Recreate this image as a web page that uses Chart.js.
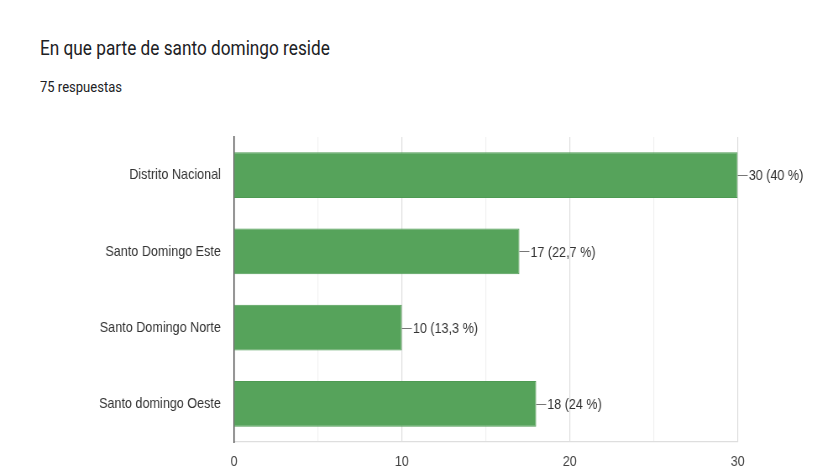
<!DOCTYPE html>
<html>
<head>
<meta charset="utf-8">
<script src="https://cdn.jsdelivr.net/npm/chart.js@4/dist/chart.umd.min.js"></script>
<style>
  html, body { margin: 0; padding: 0; background: #fff; }
  #wrap { position: relative; width: 817px; height: 473px; overflow: hidden; }
  .txt { position: absolute; left: 40px; line-height: 1; white-space: nowrap;
         font-family: Roboto, "Liberation Sans", sans-serif; color: #202124;
         transform: scaleX(0.84); transform-origin: 0 0; }
  #title { top: 38px; font-size: 20.5px; }
  #sub { top: 80px; font-size: 15.5px; }
  canvas { position: absolute; left: 0; top: 0; width: 817px !important; height: 473px !important; }
</style>
</head>
<body>
<div id="wrap">
  <div id="title" class="txt">En que parte de santo domingo reside</div>
  <div id="sub" class="txt">75 respuestas</div>
  <canvas id="chart"></canvas>
</div>
<script>
// datos del gráfico
const categories = ["Distrito Nacional", "Santo Domingo Este", "Santo Domingo Norte", "Santo domingo Oeste"];
const counts = [30, 17, 10, 18];
const percents = ["40 %", "22,7 %", "13,3 %", "24 %"];
const xTicks = [0, 10, 20, 30];

// la captura original está comprimida en horizontal: se dibuja más ancho y se escala
const SX = 0.84;
const W = Math.round(817 / SX);
const px = v => v / SX;

const BAR_GREEN = "#56a35b";
const FONT = "'Liberation Sans', Arial, sans-serif";

const canvas = document.getElementById("chart");
canvas.width = W;
canvas.height = 473;

// etiqueta "n (p %)" con una línea corta al final de cada barra
const valueLabels = {
  id: "valueLabels",
  afterDatasetsDraw(chart) {
    const ctx = chart.ctx;
    const meta = chart.getDatasetMeta(0);
    ctx.save();
    ctx.font = "15px " + FONT;
    ctx.textBaseline = "middle";
    ctx.textAlign = "left";
    meta.data.forEach((bar, i) => {
      ctx.strokeStyle = "#777";
      ctx.lineWidth = 1;
      ctx.beginPath();
      ctx.moveTo(bar.x, Math.round(bar.y) + 0.5);
      ctx.lineTo(bar.x + px(10), Math.round(bar.y) + 0.5);
      ctx.stroke();
      ctx.fillStyle = "#333";
      ctx.fillText(counts[i] + " (" + percents[i] + ")", bar.x + px(11), bar.y + 1);
    });
    ctx.restore();
  },
};

new Chart(canvas, {
  type: "bar",
  data: {
    labels: categories,
    datasets: [{
      data: counts,
      backgroundColor: BAR_GREEN,
      borderColor: "#4e9a53",
      borderWidth: 1,
      barPercentage: 0.6,
      categoryPercentage: 1,
    }],
  },
  options: {
    indexAxis: "y",
    responsive: false,
    animation: false,
    devicePixelRatio: 1,
    layout: { padding: { top: 137, right: W - px(738), left: 0, bottom: 0 } },
    plugins: {
      legend: { display: false },
      tooltip: { enabled: false },
    },
    scales: {
      x: {
        min: 0,
        max: 30,
        afterFit: s => { s.height = 31; },
        ticks: {
          stepSize: 5,
          padding: 11,
          color: "#444",
          font: { family: FONT, size: 15 },
          maxRotation: 0,
          callback: v => xTicks.includes(v) ? v : "",
        },
        grid: {
          drawTicks: false,
          lineWidth: 1.2,
          color: c => (c.tick && c.tick.value % 10 === 0) ? "#dedede" : "#f1f1f1",
        },
        border: { color: "#dedede", width: 1.2 },
      },
      y: {
        afterFit: s => { s.width = px(234); },
        ticks: {
          padding: px(13),
          color: "#333",
          font: { family: FONT, size: 15 },
        },
        grid: { display: false, drawTicks: false },
        border: { color: "#444", width: 1.4 },
      },
    },
  },
  plugins: [valueLabels],
});
</script>
</body>
</html>
